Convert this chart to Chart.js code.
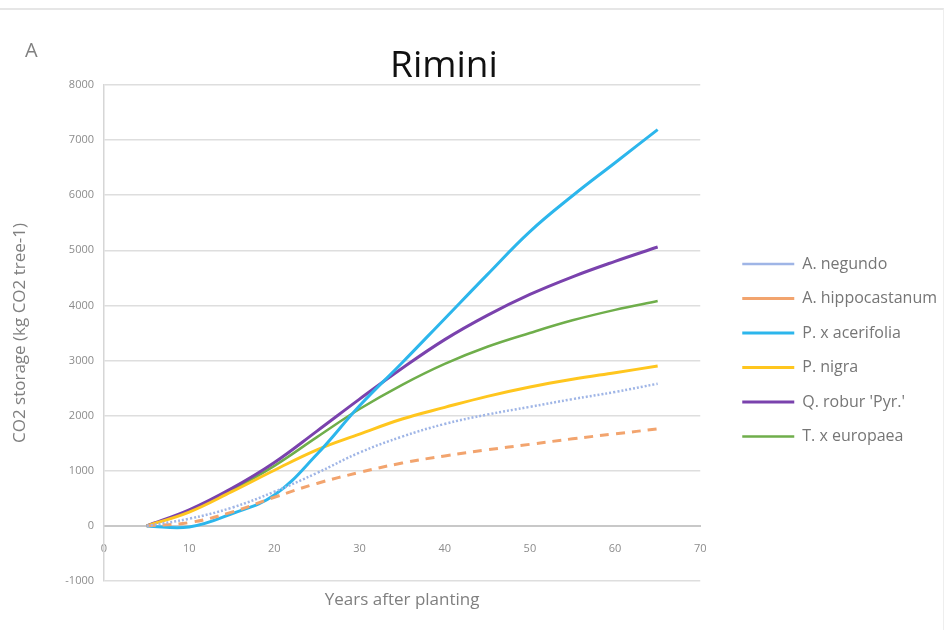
<!DOCTYPE html>
<html>
<head>
<meta charset="utf-8">
<script src="https://cdn.jsdelivr.net/npm/chart.js@4"></script>
<style>
  html, body { margin: 0; padding: 0; background: #ffffff; }
  #wrap { position: relative; width: 948px; height: 630px; overflow: hidden; }
  #frame { position: absolute; left: 0; top: 8px; width: 944px; height: 622px;
           border-top: 2px solid #e6e6e6; border-right: 1px solid #eeeeee; box-sizing: border-box; }
  canvas { position: absolute; left: 0; top: 0; }
</style>
</head>
<body>
<div id="wrap">
  <div id="frame"></div>
  <canvas id="chart" width="948" height="630"></canvas>
</div>
<script>
// Years after planting at which storage is reported
const years = [5, 10, 15, 20, 25, 30, 35, 40, 45, 50, 55, 60, 65];

// CO2 storage per tree (kg CO2 tree-1)
const aNegundo       = [0, 130, 330, 620, 960, 1330, 1620, 1850, 2020, 2160, 2300, 2430, 2580];
const aHippocastanum = [0, 60, 250, 520, 770, 970, 1140, 1270, 1380, 1480, 1580, 1670, 1760];
const pAcerifolia    = [0, -20, 220, 560, 1300, 2180, 2960, 3760, 4560, 5340, 5990, 6590, 7190];
const pNigra         = [0, 250, 620, 1010, 1380, 1665, 1940, 2150, 2350, 2520, 2660, 2780, 2900];
const qRobur         = [0, 290, 680, 1150, 1720, 2300, 2860, 3380, 3820, 4200, 4520, 4800, 5060];
const tEuropaea      = [0, 270, 650, 1090, 1610, 2120, 2560, 2940, 3250, 3500, 3730, 3920, 4080];

const speciesNames = ['A. negundo', 'A. hippocastanum', 'P. x acerifolia', 'P. nigra', "Q. robur 'Pyr.'", 'T. x europaea'];

// Axis ticks
const xTicks = [0, 10, 20, 30, 40, 50, 60, 70];
const yTicks = [-1000, 0, 1000, 2000, 3000, 4000, 5000, 6000, 7000, 8000];

const chartTitle = 'Rimini';
const panelLabel = 'A';
const xTitle = 'Years after planting';
const yTitle = 'CO2 storage (kg CO2 tree-1)';

const toPoints = (vals) => years.map((yr, i) => ({ x: yr, y: vals[i] }));

const FONT = 'Open Sans';

function lineSet(label, vals, color, width, dash) {
  return {
    label: label,
    data: toPoints(vals),
    borderColor: color,
    backgroundColor: color,
    borderWidth: width,
    borderDash: dash,
    pointRadius: 0,
    pointHoverRadius: 0,
    tension: 0.4,
    fill: false
  };
}

// Panel letter and city heading
const headings = {
  id: 'headings',
  afterDraw(chart) {
    const ctx = chart.ctx;
    ctx.save();
    ctx.textBaseline = 'alphabetic';
    ctx.fillStyle = '#111111';
    ctx.font = '37px "' + FONT + '"';
    ctx.textAlign = 'center';
    ctx.fillText(chartTitle, 444, 77);
    ctx.fillStyle = '#808080';
    ctx.font = '20px "' + FONT + '"';
    ctx.textAlign = 'left';
    ctx.fillText(panelLabel, 25, 57);
    ctx.restore();
  }
};

new Chart(document.getElementById('chart'), {
  type: 'line',
  data: {
    datasets: [
      lineSet(speciesNames[0], aNegundo, '#9fb5e6', 2.5, [2, 2]),
      lineSet(speciesNames[1], aHippocastanum, '#f2a46e', 3, [9, 7]),
      lineSet(speciesNames[2], pAcerifolia, '#2cb6ec', 3, []),
      lineSet(speciesNames[3], pNigra, '#ffc61e', 3, []),
      lineSet(speciesNames[4], qRobur, '#7a42ad', 3, []),
      lineSet(speciesNames[5], tEuropaea, '#6fae4b', 2.5, [])
    ]
  },
  options: {
    responsive: false,
    devicePixelRatio: 1,
    animation: false,
    events: [],
    layout: { padding: { top: 85, bottom: 14.5, left: 0, right: 1 } },
    plugins: {
      title: { display: false },
      tooltip: { enabled: false },
      legend: {
        position: 'right',
        align: 'center',
        labels: {
          usePointStyle: true,
          pointStyle: 'line',
          pointStyleWidth: 52,
          padding: 18.5,
          color: '#767676',
          font: { family: FONT, size: 16 }
        }
      }
    },
    scales: {
      x: {
        type: 'linear',
        min: 0,
        max: 70,
        position: { y: 0 },
        afterBuildTicks(scale) { scale.ticks = xTicks.map(v => ({ value: v })); },
        ticks: { padding: 16, color: '#8c8c8c', font: { family: FONT, size: 11 }, maxRotation: 0, callback: v => String(v) },
        grid: { display: false, drawTicks: false },
        border: { display: true, color: '#c8c8c8', width: 2 }
      },
      xTitleAxis: {
        type: 'linear',
        axis: 'x',
        position: 'bottom',
        min: 0,
        max: 1,
        afterFit(scale) { scale.height = 34.5; },
        ticks: { display: false },
        grid: { display: false, drawTicks: false },
        border: { display: false },
        title: { display: true, text: xTitle, color: '#7f7f7f', font: { family: FONT, size: 17 }, padding: { top: 0, bottom: 5 } }
      },
      y: {
        type: 'linear',
        min: -1000,
        max: 8000,
        afterFit(scale) { scale.width = 104; },
        afterBuildTicks(scale) { scale.ticks = yTicks.map(v => ({ value: v })); },
        ticks: { padding: 10, color: '#8c8c8c', font: { family: FONT, size: 11 }, callback: v => String(v) },
        grid: { color: '#dedede', lineWidth: 1.5, drawTicks: false },
        border: { display: true, color: '#d6d6d6', width: 1.5 },
        title: { display: true, text: yTitle, color: '#7f7f7f', font: { family: FONT, size: 17 }, padding: { top: 10, bottom: 0 } }
      },
      // hidden spacer between the plot and the legend
      yGap: {
        type: 'linear',
        axis: 'y',
        position: 'right',
        display: false,
        afterFit(scale) { scale.width = 23.5; }
      }
    }
  },
  plugins: [headings]
});
</script>
</body>
</html>
